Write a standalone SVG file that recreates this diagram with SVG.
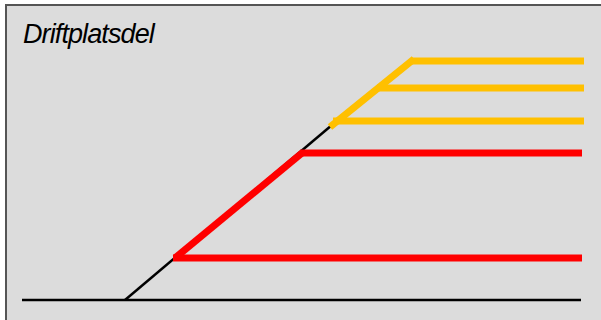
<svg xmlns="http://www.w3.org/2000/svg" width="601" height="320" viewBox="0 0 601 320">
  <style>
    .bg { fill: #DCDCDC; stroke: #555555; stroke-width: 2; }
    .ground { stroke: #000000; stroke-width: 2.5; fill: none; }
    .thin { stroke: #000000; stroke-width: 2.5; fill: none; }
    .red { stroke: #FF0000; stroke-width: 7; fill: none; stroke-linejoin: miter; }
    .orange { stroke: #FFC000; stroke-width: 7; fill: none; }
    .title { font-family: "Liberation Sans", Arial, sans-serif; font-style: italic; font-size: 27px; fill: #000000; letter-spacing: -0.9px; }
  </style>
  <rect class="bg" x="6" y="5" width="600" height="320"/>
  <g id="title">
    <text class="title" x="23" y="43">Driftplatsdel</text>
  </g>
  <g id="connectors">
    <line class="ground" x1="22" y1="300" x2="581" y2="300"/>
    <line class="thin" x1="125" y1="300" x2="332" y2="125"/>
  </g>
  <g id="red-tracks">
    <polyline class="red" points="175,258 302,153"/>
    <line class="red" x1="173" y1="258" x2="582" y2="258"/>
    <line class="red" x1="300" y1="153" x2="582" y2="153"/>
  </g>
  <g id="orange-tracks">
    <line class="orange" x1="330" y1="127" x2="414" y2="59"/>
    <line class="orange" x1="411" y1="61" x2="584" y2="61"/>
    <line class="orange" x1="377" y1="88" x2="584" y2="88"/>
    <line class="orange" x1="333" y1="121" x2="584" y2="121"/>
  </g>
</svg>
